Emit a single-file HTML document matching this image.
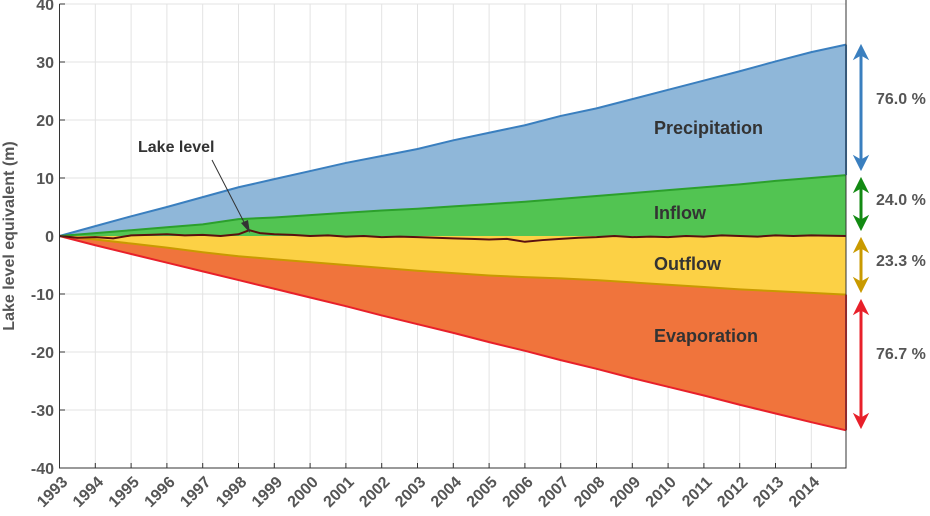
<!DOCTYPE html>
<html><head><meta charset="utf-8"><style>
body{margin:0;background:#fff}
svg{display:block;font-family:"Liberation Sans",Arial,sans-serif}
</style></head><body>
<svg id="c" width="930" height="516"></svg>
<script>
const years=[1993,1994,1995,1996,1997,1998,1999,2000,2001,2002,2003,2004,2005,2006,2007,2008,2009,2010,2011,2012,2013,2014,2014.97];
const precipTop=[0,1.7,3.4,5.0,6.7,8.4,9.8,11.2,12.6,13.8,15.0,16.5,17.8,19.1,20.7,22.0,23.6,25.2,26.8,28.4,30.1,31.7,33.0];
const inflowTop=[0,0.5,1.0,1.5,2.0,2.9,3.2,3.6,4.0,4.4,4.7,5.1,5.5,5.9,6.4,6.9,7.4,7.9,8.4,8.9,9.5,10.0,10.5];
const outflowBot=[0,-0.6,-1.3,-2.0,-2.8,-3.5,-4.0,-4.5,-5.0,-5.5,-6.0,-6.4,-6.8,-7.1,-7.3,-7.6,-8.0,-8.4,-8.8,-9.2,-9.5,-9.8,-10.1];
const evapBot=[0,-1.6,-3.1,-4.6,-6.1,-7.6,-9.1,-10.6,-12.1,-13.7,-15.2,-16.7,-18.3,-19.8,-21.4,-22.9,-24.5,-26.0,-27.5,-29.1,-30.6,-32.1,-33.5];
const lakeYears=[1993,1993.5,1994,1994.5,1995,1995.5,1996,1996.5,1997,1997.5,1998,1998.3,1998.6,1999,1999.5,2000,2000.5,2001,2001.5,2002,2002.5,2003,2003.5,2004,2004.5,2005,2005.5,2006,2006.5,2007,2007.5,2008,2008.5,2009,2009.5,2010,2010.5,2011,2011.5,2012,2012.5,2013,2013.5,2014,2014.97];
const lakeLevel=[0,-0.3,-0.2,-0.4,0.1,0.2,0.3,0.1,0.2,0.0,0.3,1.0,0.5,0.3,0.2,0.0,0.1,-0.1,0.0,-0.2,-0.1,-0.2,-0.3,-0.4,-0.5,-0.6,-0.5,-1.0,-0.7,-0.5,-0.3,-0.2,0.0,-0.2,-0.1,-0.2,0.0,-0.1,0.1,0.0,-0.1,0.1,0.0,0.1,0.0];
const yTicks=[40,30,20,10,0,-10,-20,-30,-40];
const xTicks=[1993,1994,1995,1996,1997,1998,1999,2000,2001,2002,2003,2004,2005,2006,2007,2008,2009,2010,2011,2012,2013,2014];
const pctLabels=["76.0 %","24.0 %","23.3 %","76.7 %"];

const X=v=>59.5+(v-1993)*35.8;
const Y=v=>236-v*5.8;
const svg=document.getElementById('c');
const NS='http://www.w3.org/2000/svg';
function mk(tag,attrs,parent){const e=document.createElementNS(NS,tag);for(const k in attrs)e.setAttribute(k,attrs[k]);(parent||svg).appendChild(e);return e;}

for(const t of yTicks){const l=mk('line',{x1:59.5,x2:846,y1:Y(t),y2:Y(t),stroke:'#e3e3e3','stroke-width':1});

}
for(const t of xTicks){const l=mk('line',{x1:X(t),x2:X(t),y1:Y(40),y2:Y(-40),stroke:'#e3e3e3','stroke-width':1});

}

function band(xs,top,bot,fill,stroke,name){
  let d='M'+xs.map((x,i)=>X(x)+','+Y(top[i])).join('L');
  for(let i=xs.length-1;i>=0;i--)d+='L'+X(xs[i])+','+Y(bot[i]);
  const p=mk('path',{d:d+'Z',fill:fill,stroke:'none'});
  
  
  const l=mk('path',{d:'M'+xs.map((x,i)=>X(x)+','+Y(top[i])).join('L'),fill:'none',stroke:stroke,'stroke-width':2});
  
  
}
const zeros=years.map(()=>0);
band(years,precipTop,inflowTop,'#8fb7d9','#3a7fbf','precipitation');
band(years,inflowTop,zeros,'#52c452','#2ca02c','inflow');
band(years,evapBot,outflowBot,'#f0743c','#e8202a','evaporation');
band(years,outflowBot,zeros,'#fcd145','#c99a00','outflow');
const last=years.length-1;
const e1=mk('line',{x1:X(years[last]),x2:X(years[last]),y1:Y(precipTop[last]),y2:Y(inflowTop[last]),stroke:'#3a7fbf','stroke-width':2});


const e2=mk('line',{x1:X(years[last]),x2:X(years[last]),y1:Y(outflowBot[last]),y2:Y(evapBot[last]),stroke:'#e8202a','stroke-width':2});


const lk=mk('path',{d:'M'+lakeYears.map((x,i)=>X(x)+','+Y(lakeLevel[i])).join('L'),fill:'none',stroke:'#5a1010','stroke-width':2});



const ax=mk('path',{d:`M59.5,${Y(40)}V${Y(-40)}H846V0`,fill:'none',stroke:'#333','stroke-width':1});


for(const t of yTicks){
  const tk=mk('line',{x1:59.5,x2:65,y1:Y(t),y2:Y(t),stroke:'#333'});
  
  
  const tx=mk('text',{x:54,y:Y(t)+6,'text-anchor':'end','font-size':16,'font-weight':'bold',fill:'#555'});
  tx.textContent=t;
  
  
}
for(const t of xTicks){
  const tk=mk('line',{x1:X(t),x2:X(t),y1:Y(-40),y2:Y(-40)-5,stroke:'#333'});
  
  
  const ax0=X(t)+9, ay0=Y(-40)+15;
  const tx=mk('text',{x:ax0,y:ay0,'text-anchor':'end','font-size':16,'font-weight':'bold',fill:'#555',transform:`rotate(-45 ${ax0} ${ay0})`});
  tx.textContent=t;
  
  
}
const yl=mk('text',{x:0,y:0,'text-anchor':'middle','font-size':16,'font-weight':'bold',fill:'#555',transform:'translate(14,236) rotate(-90)'});
yl.textContent='Lake level equivalent (m)';



const labs=[['Precipitation',654,134],['Inflow',654,219],['Outflow',654,270],['Evaporation',654,342]];
for(const [t,x,y] of labs){const e=mk('text',{x:x,y:y,'font-size':18,'font-weight':'bold',fill:'#333'});e.textContent=t;

}
const ll=mk('text',{x:138,y:152,'font-size':16,'font-weight':'bold',fill:'#333'});ll.textContent='Lake level';


const al=mk('line',{x1:212,y1:160,x2:246,y2:226,stroke:'#333','stroke-width':1});


const ah=mk('path',{d:'M250,233 L241,223 L248,220 Z',fill:'#333'});



const arrows=[[45,170,'#3a7fbf',104],[178,230,'#138a13',205],[238,292,'#c99a00',266],[300,428,'#e8202a',359]];
arrows.forEach((a,i)=>{
  const [y1,y2,c,ly]=a;
  const g=mk('g',{});
  
  
  mk('line',{x1:861,x2:861,y1:y1+4,y2:y2-4,stroke:c,'stroke-width':3},g);
  mk('path',{d:`M861,${y1} L854,${y1+14} L861,${y1+10} L868,${y1+14}Z`,fill:c,stroke:c,'stroke-width':1},g);
  mk('path',{d:`M861,${y2} L854,${y2-14} L861,${y2-10} L868,${y2-14}Z`,fill:c,stroke:c,'stroke-width':1},g);
  const t=mk('text',{x:876,y:ly,'font-size':16,'font-weight':'bold',fill:'#555'});
  t.textContent=pctLabels[i];
  
  
});
</script>
</body></html>
